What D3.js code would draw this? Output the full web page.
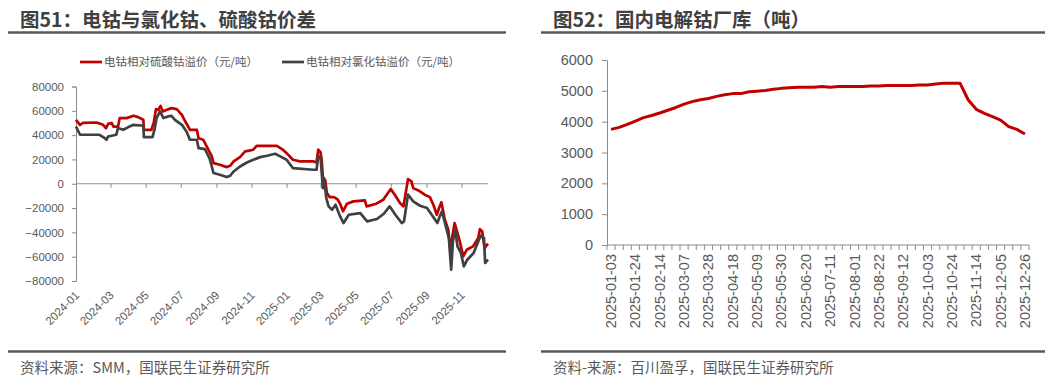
<!DOCTYPE html>
<html>
<head>
<meta charset="utf-8">
<script src="https://cdn.jsdelivr.net/npm/d3@7"></script>
<style>
  body { margin: 0; background: #fff; }
  svg { display: block; font-family: "Noto Sans CJK SC", "Noto Sans", sans-serif; }
</style>
</head>
<body>
<div id="chart"></div>
<script>
// 图51 data: premium of cobalt metal over cobalt sulfate / cobalt chloride (元/吨)
var sulfateDates = ["2024-01-01","2024-01-08","2024-01-13","2024-02-06","2024-02-17","2024-02-22","2024-02-26","2024-03-03","2024-03-06","2024-03-14","2024-03-17","2024-03-29","2024-04-10","2024-04-18","2024-04-27","2024-04-28","2024-05-11","2024-05-15","2024-05-19","2024-05-23","2024-05-27","2024-05-31","2024-06-07","2024-06-15","2024-06-24","2024-07-03","2024-07-09","2024-07-17","2024-07-29","2024-08-01","2024-08-09","2024-08-18","2024-08-24","2024-08-27","2024-09-07","2024-09-19","2024-09-25","2024-10-01","2024-10-12","2024-10-21","2024-10-30","2024-11-04","2024-11-10","2024-11-28","2024-12-15","2024-12-24","2025-01-01","2025-01-12","2025-01-24","2025-02-16","2025-02-22","2025-02-25","2025-03-01","2025-03-03","2025-03-06","2025-03-09","2025-03-12","2025-03-17","2025-03-24","2025-03-30","2025-04-04","2025-04-09","2025-04-16","2025-04-27","2025-05-17","2025-05-20","2025-06-06","2025-06-18","2025-07-01","2025-07-08","2025-07-17","2025-07-23","2025-07-25","2025-07-31","2025-08-06","2025-08-09","2025-08-18","2025-08-29","2025-09-07","2025-09-13","2025-09-19","2025-09-23","2025-09-27","2025-10-03","2025-10-09","2025-10-13","2025-10-16","2025-10-20","2025-10-25","2025-10-29","2025-11-04","2025-11-10","2025-11-21","2025-11-30","2025-12-03","2025-12-07","2025-12-11","2025-12-17"];
var sulfateSpread = [52600,48500,50000,50400,48500,45700,49300,50000,47000,47000,54000,54000,56000,54800,52600,44400,44400,50000,61400,60800,64000,59500,60800,62200,61400,56700,51200,44400,44400,37500,36200,28000,22500,17000,15600,13700,14800,18400,21900,26600,27400,28000,31200,31200,31200,28500,25200,19700,18400,18400,17500,28000,25800,19700,-2200,3300,-7700,-11000,-11000,-12600,-16400,-22700,-16400,-14500,-13700,-18600,-16400,-13200,-4400,-9000,-15900,-18600,-13200,3800,1900,-3600,-5500,-9000,-11000,-17300,-25500,-20000,-15300,-29600,-37800,-57000,-43300,-32300,-40600,-47400,-59700,-54300,-51500,-44700,-37300,-39200,-52900,-49300];

var chlorideDates = ["2024-01-01","2024-01-08","2024-02-11","2024-02-20","2024-02-23","2024-02-26","2024-03-11","2024-03-14","2024-03-23","2024-04-01","2024-04-10","2024-04-27","2024-04-28","2024-05-13","2024-05-17","2024-05-20","2024-05-26","2024-06-01","2024-06-09","2024-06-15","2024-06-21","2024-07-03","2024-07-11","2024-07-17","2024-07-29","2024-08-01","2024-08-12","2024-08-20","2024-08-24","2024-08-27","2024-09-07","2024-09-19","2024-09-25","2024-10-01","2024-10-12","2024-10-24","2024-11-04","2024-11-16","2024-11-28","2024-12-12","2024-12-21","2025-01-01","2025-01-12","2025-02-16","2025-02-22","2025-02-25","2025-03-01","2025-03-05","2025-03-07","2025-03-11","2025-03-15","2025-03-21","2025-03-27","2025-04-04","2025-04-10","2025-04-19","2025-05-09","2025-05-21","2025-06-07","2025-06-19","2025-06-29","2025-07-09","2025-07-20","2025-07-24","2025-07-31","2025-08-09","2025-08-21","2025-09-02","2025-09-14","2025-09-20","2025-09-24","2025-09-28","2025-10-04","2025-10-10","2025-10-14","2025-10-17","2025-10-21","2025-10-25","2025-10-31","2025-11-05","2025-11-11","2025-11-22","2025-12-04","2025-12-10","2025-12-12","2025-12-17"];
var chlorideSpread = [47100,40300,40300,37500,36200,38900,40300,45800,44400,46600,48500,47700,38400,38400,45800,54000,59500,54000,55400,55900,52600,48500,43000,36200,36200,29300,28500,21100,14200,8800,7400,5500,6600,10100,14200,17500,19700,21900,23000,24700,22500,19700,12900,11500,11500,22500,21900,-3600,4700,-11800,-18600,-21400,-17300,-26900,-32300,-25500,-24100,-31000,-29000,-24700,-18600,-25500,-32300,-31000,-9000,-14500,-18100,-20000,-28200,-32300,-26900,-22700,-33700,-44700,-70700,-47400,-37800,-51500,-57000,-68000,-62500,-57000,-42700,-44700,-65200,-62500];

var leftTicks = [80000,60000,40000,20000,0,-20000,-40000,-60000,-80000];
var legendNames = ["电钴相对硫酸钴溢价（元/吨）","电钴相对氯化钴溢价（元/吨）"];

// 图52 data: domestic electrolytic cobalt plant inventory (吨), weekly
var weeks = ["2025-01-03","2025-01-10","2025-01-17","2025-01-24","2025-01-31","2025-02-07","2025-02-14","2025-02-21","2025-02-28","2025-03-07","2025-03-14","2025-03-21","2025-03-28","2025-04-04","2025-04-11","2025-04-18","2025-04-25","2025-05-02","2025-05-09","2025-05-16","2025-05-23","2025-05-30","2025-06-06","2025-06-13","2025-06-20","2025-06-27","2025-07-04","2025-07-11","2025-07-18","2025-07-25","2025-08-01","2025-08-08","2025-08-15","2025-08-22","2025-08-29","2025-09-05","2025-09-12","2025-09-19","2025-09-26","2025-10-03","2025-10-10","2025-10-17","2025-10-24","2025-10-31","2025-11-07","2025-11-14","2025-11-21","2025-11-28","2025-12-05","2025-12-12","2025-12-19","2025-12-26"];
var inventory = [3750,3815,3910,4020,4130,4200,4280,4370,4460,4570,4650,4710,4750,4820,4870,4910,4910,4970,4990,5010,5050,5080,5100,5120,5120,5120,5140,5120,5140,5140,5140,5140,5160,5160,5170,5170,5170,5170,5190,5190,5220,5250,5250,5250,4710,4400,4270,4160,4050,3840,3750,3600];
var rightTicks = [0,1000,2000,3000,4000,5000,6000];

var RED = "#c00000", DARK = "#404040", TXT = "#595959", AXIS = "#8c8c8c";

var svg = d3.select("#chart").append("svg")
    .attr("width", 1054)
    .attr("height", 391);

// titles, rules, sources
function panelFrame(x0, x1, title, source) {
    svg.append("text")
        .attr("x", x0 + 12).attr("y", 27)
        .attr("font-size", 19.5).attr("font-weight", "bold")
        .attr("fill", DARK)
        .text(title);
    svg.append("line")
        .attr("x1", x0).attr("x2", x1).attr("y1", 32.5).attr("y2", 32.5)
        .attr("stroke", "#595959").attr("stroke-width", 2.5);
    svg.append("line")
        .attr("x1", x0).attr("x2", x1).attr("y1", 351.5).attr("y2", 351.5)
        .attr("stroke", "#595959").attr("stroke-width", 2.5);
    svg.append("text")
        .attr("x", x0 + 12).attr("y", 373)
        .attr("font-size", 14.5)
        .attr("fill", TXT)
        .text(source);
}
panelFrame(8, 506, "图51：电钴与氯化钴、硫酸钴价差", "资料来源：SMM，国联民生证券研究所");
panelFrame(541, 1045, "图52：国内电解钴厂库（吨）", "资料-来源：百川盈孚，国联民生证券研究所");

// ---------- left chart ----------
var parse = d3.timeParse("%Y-%m-%d");
var x1 = d3.scaleTime()
    .domain([parse("2024-01-01"), parse("2025-12-17")])
    .range([76, 488]);
var y1 = d3.scaleLinear()
    .domain([-80000, 80000])
    .range([281, 86.5]);

var left = svg.append("g");

// y axis
left.append("g")
    .attr("transform", "translate(76,0)")
    .call(d3.axisLeft(y1).tickValues(leftTicks).tickSize(4).tickPadding(8).tickFormat(d3.format("d")))
    .call(g => g.select(".domain").attr("stroke", AXIS))
    .call(g => g.selectAll(".tick line").attr("stroke", AXIS))
    .call(g => g.selectAll("text").attr("font-size", 11.5).attr("fill", TXT)
        .attr("font-family", "'Liberation Sans', sans-serif"));

// zero line with ticks
var monthTicks = d3.timeMonth.every(2).range(parse("2024-01-01"), parse("2025-12-01"));
left.append("g")
    .attr("transform", "translate(0," + y1(0) + ")")
    .call(d3.axisBottom(x1).tickValues(monthTicks).tickSize(4).tickFormat(""))
    .call(g => g.select(".domain").attr("stroke", AXIS).attr("d", "M76,0H488"))
    .call(g => g.selectAll(".tick line").attr("stroke", AXIS));

// month labels below the plot
left.selectAll(".mlab")
    .data(monthTicks)
    .join("text")
    .attr("transform", d => "translate(" + (x1(d) + 4) + ",296) rotate(-45)")
    .attr("text-anchor", "end")
    .attr("font-size", 11.5)
    .attr("font-family", "'Liberation Sans', sans-serif")
    .attr("fill", TXT)
    .text(d3.timeFormat("%Y-%m"));

var line1 = d3.line()
    .x(d => x1(d[0]))
    .y(d => y1(d[1]));

left.append("path")
    .datum(sulfateDates.map((d, i) => [parse(d), sulfateSpread[i]]))
    .attr("d", line1)
    .attr("fill", "none")
    .attr("stroke", RED)
    .attr("stroke-width", 2.7)
    .attr("stroke-linejoin", "round");

left.append("path")
    .datum(chlorideDates.map((d, i) => [parse(d), chlorideSpread[i]]))
    .attr("d", line1)
    .attr("fill", "none")
    .attr("stroke", DARK)
    .attr("stroke-width", 2.7)
    .attr("stroke-linejoin", "round");

// legend
var legendX = [80, 282];
var legendC = [RED, DARK];
legendNames.forEach(function (name, i) {
    left.append("line")
        .attr("x1", legendX[i]).attr("x2", legendX[i] + 22)
        .attr("y1", 62).attr("y2", 62)
        .attr("stroke", legendC[i]).attr("stroke-width", 2.7);
    left.append("text")
        .attr("x", legendX[i] + 24).attr("y", 66)
        .attr("font-size", 11.5)
        .attr("fill", TXT)
        .text(name);
});

// ---------- right chart ----------
var x2 = d3.scaleBand()
    .domain(weeks)
    .range([607, 1029]);
var y2 = d3.scaleLinear()
    .domain([0, 6000])
    .range([245, 60]);

var right = svg.append("g");

right.append("g")
    .attr("transform", "translate(607,0)")
    .call(d3.axisLeft(y2).tickValues(rightTicks).tickSize(5).tickPadding(9).tickFormat(d3.format("d")))
    .call(g => g.select(".domain").attr("stroke", AXIS))
    .call(g => g.selectAll(".tick line").attr("stroke", AXIS))
    .call(g => g.selectAll("text").attr("font-size", 14.5).attr("fill", TXT)
        .attr("font-family", "'Liberation Sans', sans-serif"));

// x axis: tick marks between categories
var bounds = weeks.map(d => x2(d)).concat([1029]);
right.append("line")
    .attr("x1", 607).attr("x2", 1029)
    .attr("y1", 245).attr("y2", 245)
    .attr("stroke", AXIS);
right.selectAll(".wtick")
    .data(bounds)
    .join("line")
    .attr("x1", d => d).attr("x2", d => d)
    .attr("y1", 245).attr("y2", 250)
    .attr("stroke", AXIS);

right.selectAll(".wlab")
    .data(weeks.filter((d, i) => i % 3 === 0))
    .join("text")
    .attr("transform", d => "translate(" + (x2(d) + x2.bandwidth() / 2 + 5) + ",254) rotate(-90)")
    .attr("text-anchor", "end")
    .attr("font-size", 14.5)
    .attr("font-family", "'Liberation Sans', sans-serif")
    .attr("fill", TXT)
    .text(d => d);

right.append("path")
    .datum(inventory)
    .attr("d", d3.line()
        .x((d, i) => x2(weeks[i]) + x2.bandwidth() / 2)
        .y(d => y2(d)))
    .attr("fill", "none")
    .attr("stroke", RED)
    .attr("stroke-width", 3)
    .attr("stroke-linejoin", "round");
</script>
</body>
</html>
